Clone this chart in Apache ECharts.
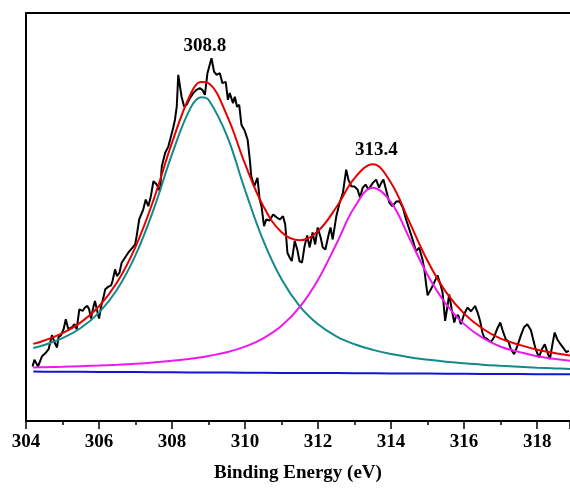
<!DOCTYPE html>
<html>
<head>
<meta charset="utf-8">
<script src="https://cdn.jsdelivr.net/npm/echarts@6/dist/echarts.min.js"></script>
<style>
  html, body { margin: 0; padding: 0; background: #fff; }
  #chart { width: 570px; height: 488px; }
</style>
</head>
<body>
<div id="chart"></div>
<script>
// measured spectrum (binding energy, intensity a.u.)
var rawX = [304.18, 304.23, 304.33, 304.44, 304.55, 304.62, 304.71, 304.78, 304.85, 304.89, 304.96, 305.03, 305.09, 305.16, 305.26, 305.33, 305.39, 305.46, 305.55, 305.62, 305.68, 305.73, 305.78, 305.85, 305.89, 305.94, 306.00, 306.06, 306.12, 306.17, 306.26, 306.33, 306.37, 306.44, 306.49, 306.56, 306.62, 306.71, 306.80, 306.90, 306.99, 307.03, 307.10, 307.21, 307.28, 307.35, 307.42, 307.49, 307.58, 307.67, 307.72, 307.81, 307.90, 307.97, 308.03, 308.08, 308.13, 308.17, 308.26, 308.33, 308.40, 308.49, 308.58, 308.67, 308.76, 308.83, 308.90, 308.97, 309.08, 309.15, 309.22, 309.31, 309.38, 309.47, 309.53, 309.58, 309.67, 309.72, 309.78, 309.84, 309.90, 309.99, 310.07, 310.13, 310.17, 310.25, 310.34, 310.40, 310.45, 310.52, 310.58, 310.67, 310.77, 310.87, 310.95, 311.04, 311.10, 311.16, 311.22, 311.28, 311.36, 311.43, 311.49, 311.56, 311.63, 311.70, 311.77, 311.85, 311.92, 311.99, 312.07, 312.13, 312.20, 312.29, 312.34, 312.40, 312.50, 312.59, 312.68, 312.77, 312.83, 312.91, 313.00, 313.08, 313.15, 313.22, 313.30, 313.38, 313.50, 313.59, 313.67, 313.73, 313.79, 313.86, 313.95, 314.04, 314.14, 314.23, 314.32, 314.41, 314.50, 314.59, 314.68, 314.77, 314.86, 314.91, 314.96, 315.00, 315.09, 315.18, 315.27, 315.35, 315.41, 315.48, 315.54, 315.59, 315.66, 315.73, 315.78, 315.84, 315.91, 316.00, 316.09, 316.19, 316.30, 316.37, 316.44, 316.50, 316.55, 316.64, 316.73, 316.82, 316.90, 316.99, 317.07, 317.14, 317.21, 317.28, 317.37, 317.46, 317.55, 317.64, 317.73, 317.83, 317.89, 317.96, 318.05, 318.13, 318.21, 318.27, 318.35, 318.42, 318.48, 318.55, 318.64, 318.74, 318.80, 318.87];
var rawY = [54.7, 61.3, 54.7, 65, 68.7, 72, 86, 79, 73.7, 84, 86, 92, 102, 92, 94, 97, 92, 112, 110.3, 114, 115.3, 112, 102.7, 115, 120.3, 112, 102.7, 115.3, 123.7, 132, 134.7, 136, 140.3, 152, 145.3, 148.7, 158.7, 163.7, 168.7, 173, 177, 185.3, 202, 212, 222, 215.3, 225.3, 240.3, 237, 230.3, 255.3, 268.7, 275.3, 285.3, 293.7, 302, 315.3, 347, 325.3, 315.3, 317, 323.7, 328.7, 332, 333.7, 332, 327, 348.7, 363.7, 350.3, 347, 348.7, 338.7, 340, 322, 328.7, 318.7, 325, 315, 317, 297, 291, 282, 262, 245.3, 235.3, 243.7, 222, 215.3, 195.3, 202, 201, 207, 204, 202, 205.3, 197, 168.7, 164, 160.3, 180.3, 172, 160.3, 158.7, 175.3, 186, 174, 189, 177, 194, 184, 174, 172, 187, 194, 182, 205.3, 218.7, 228.7, 252, 242, 235.3, 235, 232, 224, 233.7, 237, 232, 238.7, 242, 234, 238.7, 242, 232, 219, 215.3, 220, 220.3, 214, 202, 192, 182, 170.3, 173.7, 162, 152, 137, 126, 132, 138.7, 146, 137, 128.7, 100.3, 114, 127, 112, 98.7, 105.3, 106, 97, 107, 113.7, 110, 115.3, 108.7, 100, 88.7, 83.7, 82, 79, 84, 92, 98.7, 89, 82, 80, 72, 67, 75.3, 85.3, 94, 97, 91, 82, 72, 63.7, 72, 77, 70, 62, 77, 88.7, 82, 77, 72, 69, 70.3];

// fitted components
var fitX = [304.2, 304.5, 305, 305.5, 306, 306.5, 307, 307.5, 308, 308.5, 308.8, 309, 309.5, 310, 310.5, 311, 311.5, 312, 312.5, 313, 313.5, 314, 314.5, 315, 315.5, 316, 316.5, 317, 317.5, 318, 318.5, 318.9];
var background = [49.5, 49.4, 49.4, 49.3, 49.2, 49.1, 49.0, 48.9, 48.8, 48.7, 48.6, 48.6, 48.5, 48.4, 48.3, 48.2, 48.1, 48.1, 48.0, 47.9, 47.8, 47.7, 47.6, 47.5, 47.4, 47.3, 47.2, 47.1, 47.0, 46.9, 46.8, 46.8];
var peak1 = [73.1, 76.2, 83.1, 93.2, 108.6, 132.0, 166.2, 212.6, 267.5, 313.4, 324.5, 322.0, 286.2, 231.5, 180.8, 142.0, 114.9, 96.9, 84.9, 76.9, 71.3, 67.1, 63.9, 61.5, 59.4, 57.8, 56.4, 55.3, 54.3, 53.4, 52.7, 52.2];
var peak2 = [53.7, 53.9, 54.4, 55.0, 55.6, 56.4, 57.4, 58.7, 60.3, 62.4, 63.9, 65.2, 69.0, 74.6, 82.9, 95.4, 114.4, 141.7, 177.4, 214.5, 233.8, 219.2, 183.3, 146.4, 117.4, 97.1, 83.5, 74.4, 69.3, 64.9, 62.1, 60.3];
var envelope = [77.3, 80.7, 88.1, 98.9, 115.0, 139.3, 174.6, 222.4, 279.0, 327.1, 339.8, 338.6, 306.7, 257.7, 215.4, 189.2, 181.2, 190.5, 214.3, 243.5, 257.3, 238.6, 199.6, 160.4, 129.4, 107.6, 92.7, 82.6, 76.6, 71.4, 68.0, 65.7];

// peak annotations
var peakLabels = ['308.8', '313.4'];
var peakLabelPos = [[308.9, 376], [313.6, 272]];

function zip(xs, ys) {
  return xs.map(function (x, i) { return [x, ys[i]]; });
}

var myChart = echarts.init(document.getElementById('chart'));

var font = 'Liberation Serif, Times New Roman, serif';

var option = {
  animation: false,
  backgroundColor: '#fff',
  grid: { left: 26, right: 0, top: 13, bottom: 66 },
  xAxis: [{
    type: 'value',
    min: 304,
    max: 318.9,
    interval: 2,
    name: 'Binding Energy (eV)',
    nameLocation: 'middle',
    nameGap: 43,
    nameTextStyle: { fontFamily: font, fontWeight: 'bold', fontSize: 19, color: '#000' },
    axisLine: { lineStyle: { color: '#000', width: 2 } },
    axisTick: { inside: false, length: 8, lineStyle: { color: '#000', width: 1.5 } },
    minorTick: { show: true, splitNumber: 2, length: 4, lineStyle: { color: '#000', width: 1.5 } },
    axisLabel: { fontFamily: font, fontWeight: 'bold', fontSize: 19, color: '#000', margin: 12, showMaxLabel: false },
    splitLine: { show: false }
  }, {
    type: 'value',
    position: 'top',
    min: 304,
    max: 318.9,
    axisLine: { show: true, lineStyle: { color: '#000', width: 2 } },
    axisTick: { show: false },
    axisLabel: { show: false },
    splitLine: { show: false }
  }],
  yAxis: {
    type: 'value',
    min: 0,
    max: 409,
    axisLine: { show: true, lineStyle: { color: '#000', width: 2 } },
    axisTick: { show: false },
    axisLabel: { show: false },
    splitLine: { show: false }
  },
  series: [
    {
      name: 'raw', type: 'line', data: zip(rawX, rawY), symbol: 'none',
      lineStyle: { color: '#000', width: 2 }
    },
    {
      name: 'background', type: 'line', data: zip(fitX, background), symbol: 'none',
      lineStyle: { color: '#1414d8', width: 2 }
    },
    {
      name: 'peak1', type: 'line', data: zip(fitX, peak1), symbol: 'none', smooth: 0.4,
      lineStyle: { color: '#138a8a', width: 2 }
    },
    {
      name: 'peak2', type: 'line', data: zip(fitX, peak2), symbol: 'none', smooth: 0.4,
      lineStyle: { color: '#ee18ee', width: 2 }
    },
    {
      name: 'envelope', type: 'line', data: zip(fitX, envelope), symbol: 'none', smooth: 0.4,
      lineStyle: { color: '#e80000', width: 2 },
      markPoint: {
        symbol: 'circle', symbolSize: 0,
        label: {
          show: true, position: 'inside', fontFamily: font, fontWeight: 'bold',
          fontSize: 19, color: '#000',
          formatter: function (p) { return p.name; }
        },
        data: peakLabels.map(function (t, i) { return { name: t, coord: peakLabelPos[i] }; })
      }
    }
  ]
};

myChart.setOption(option);
</script>
</body>
</html>
